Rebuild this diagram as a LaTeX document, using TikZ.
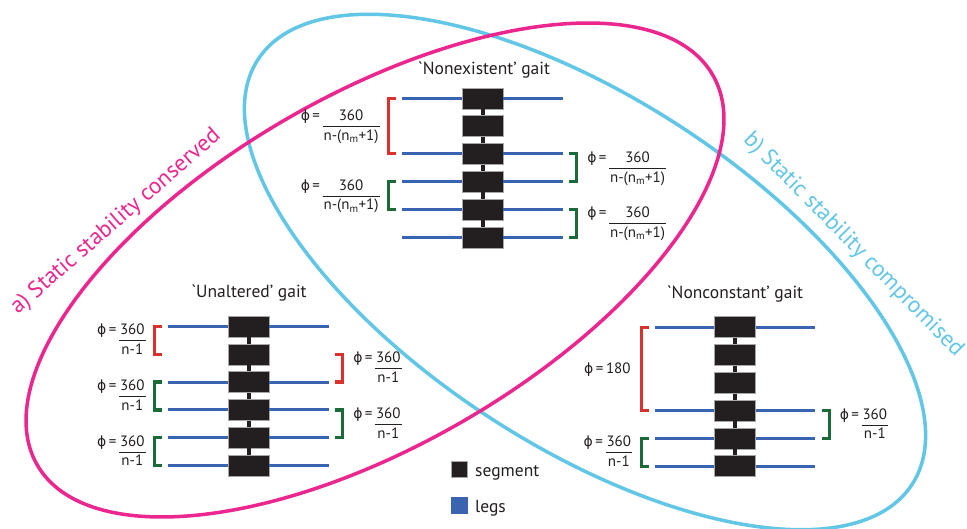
\documentclass[tikz,border=0pt]{standalone}
\usepackage{fontspec}
\setmainfont{PT Sans}
\newfontfamily\phifont{DejaVu Sans}
\usetikzlibrary{calc}
\definecolor{pinkc}{RGB}{236,38,143}
\definecolor{cyanc}{RGB}{98,198,230}
\definecolor{legc}{RGB}{58,99,176}
\definecolor{redc}{RGB}{216,49,46}
\definecolor{greenc}{RGB}{27,107,58}
\definecolor{segc}{RGB}{35,31,32}
\setlength{\arrayrulewidth}{0.8pt}
\newcommand{\myphi}{{\phifont\fontsize{14}{18}\selectfont ϕ}}
\newcommand{\phifrac}[2]{\myphi\,=\,\begin{tabular}[t]{@{\hspace{1pt}}c@{\hspace{1pt}}}#1\\\hline\rule{0pt}{13.5pt}#2\end{tabular}}
\newcommand{\nm}{n-(n\textsubscript{m}+1)}
% gait: prefix, cx, y0
\newcommand{\gait}[3]{%
  \foreach \i in {1,...,6} {\node[seg] (#1\i) at (#2, {#3+(\i-1)*27.8}) {};}
  \foreach \i/\j in {1/2,2/3,3/4,4/5,5/6} {\draw[spine] (#1\i.south) -- (#1\j.north);}
}
\newcommand{\legs}[2]{\foreach \i in {#2} {\draw[leg] (#1\i.west) -- ++(-59.5,0); \draw[leg] (#1\i.east) -- ++(59.5,0);}}
% brackets: colour, prefix, i, j
\newcommand{\lbr}[4]{\draw[br,#1] ([xshift=-65.5pt]#2#3.west) -- ++(-7.5,0) |- ([xshift=-65.5pt]#2#4.west);}
\newcommand{\rbr}[4]{\draw[br,#1] ([xshift=66pt]#2#3.east) -- ++(7.5,0) |- ([xshift=66pt]#2#4.east);}
% labels: prefix, i, j, text
\newcommand{\llab}[4]{\node[lab, anchor=base east] (#1L#2) at ($(#1#2.west)!0.5!(#1#3.west)+(-82,-5.4)$) {#4};}
\newcommand{\rlab}[4]{\node[lab, anchor=base west] (#1R#2) at ($(#1#2.east)!0.5!(#1#3.east)+(83.8,-5.4)$) {#4};}
\begin{document}
\begin{tikzpicture}[x=1pt,y=-1pt,
  seg/.style={rectangle, fill=segc, draw=gray!70, line width=0.5pt, minimum width=41pt, minimum height=21pt, inner sep=0pt},
  spine/.style={draw=segc, line width=4pt},
  leg/.style={draw=legc, line width=3pt},
  br/.style={line width=3.2pt, line join=miter},
  lab/.style={font=\fontsize{15}{18}\selectfont, text=segc, inner sep=0pt},
  title/.style={font=\fontsize{17.5}{21}\selectfont, text=segc, inner sep=0pt},
  biglab/.style={font=\fontsize{23}{27}\selectfont, inner sep=0pt},
  pinkline/.style={draw=pinkc, line width=3.5pt},
  cyanline/.style={draw=cyanc, line width=3.5pt}]
\useasboundingbox (0,0) rectangle (967,529);
\fill[white] (0,0) rectangle (967,529);
% ellipses
\draw[cyanline, rotate around={-33:(585,272)}] (585,272) ellipse [x radius=390pt, y radius=174pt];
\draw[pinkline, rotate around={30:(375,270)}] (375,270) ellipse [x radius=390pt, y radius=175pt];
\node[biglab, text=pinkc, rotate=41] (labA) at (116,222) {a) Static stability conserved};
\node[biglab, text=cyanc, rotate=-45.5] (labB) at (853,245) {b) Static stability compromised};
% titles
\node[title] (ttop) at (484,70) {\textasciigrave Nonexistent’ gait};
\node[title] (tleft) at (249,293.5) {\textasciigrave Unaltered’ gait};
\node[title] (tright) at (735,294) {\textasciigrave Nonconstant’ gait};
% top gait
\gait{T}{482.5}{98.3}
\legs{T}{1,3,4,5,6}
\lbr{redc}{T}{1}{3}
\lbr{greenc}{T}{4}{5}
\rbr{greenc}{T}{3}{4}
\rbr{greenc}{T}{5}{6}
\llab{T}{1}{3}{\phifrac{360}{\nm}}
\llab{T}{4}{5}{\phifrac{360}{\nm}}
\rlab{T}{3}{4}{\phifrac{360}{\nm}}
\rlab{T}{5}{6}{\phifrac{360}{\nm}}
% left gait
\gait{L}{248.5}{326.5}
\legs{L}{1,3,4,5,6}
\lbr{redc}{L}{1}{2}
\lbr{greenc}{L}{3}{4}
\lbr{greenc}{L}{5}{6}
\rbr{redc}{L}{2}{3}
\rbr{greenc}{L}{4}{5}
\llab{L}{1}{2}{\phifrac{360}{n-1}}
\llab{L}{3}{4}{\phifrac{360}{n-1}}
\llab{L}{5}{6}{\phifrac{360}{n-1}}
\rlab{L}{2}{3}{\phifrac{360}{n-1}}
\rlab{L}{4}{5}{\phifrac{360}{n-1}}
% right gait
\gait{R}{735}{327.2}
\legs{R}{1,4,5,6}
\lbr{redc}{R}{1}{4}
\lbr{greenc}{R}{5}{6}
\rbr{greenc}{R}{4}{5}
\node[lab, anchor=east] (RL1) at ($(R1.west)!0.5!(R4.west)+(-83.5,1)$) {\myphi\,=\,180};
\llab{R}{5}{6}{\phifrac{360}{n-1}}
\rlab{R}{4}{5}{\phifrac{360}{n-1}}
% legend
\node[seg, minimum width=16pt, minimum height=16pt] (kseg) at (459.5,469) {};
\node[seg, fill=legc, draw=legc, minimum width=16pt, minimum height=16pt] (kleg) at (459.5,505) {};
\node[title, anchor=base west] (tseg) at (475,476.5) {segment};
\node[title, anchor=base west] (tleg) at (475,512.5) {legs};
\end{tikzpicture}
\end{document}
